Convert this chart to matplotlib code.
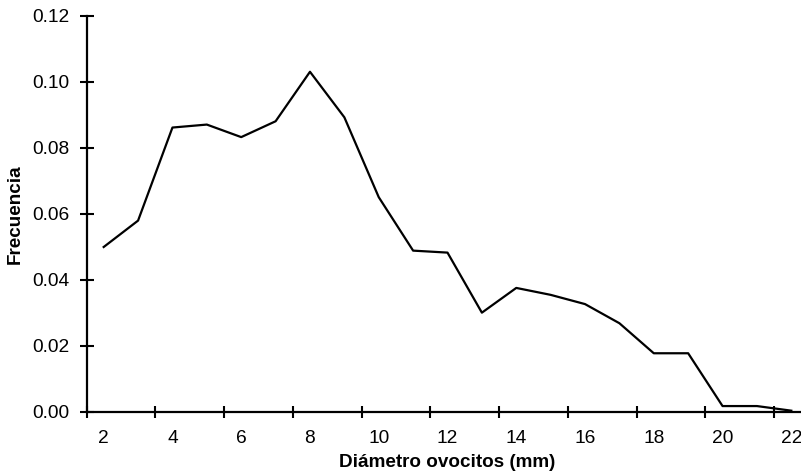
import matplotlib.pyplot as plt
import numpy as np

plt.rcParams['font.family'] = ['Liberation Sans', 'DejaVu Sans']

# Diámetro de ovocitos (mm), una categoría por milímetro
diametro = [2, 3, 4, 5, 6, 7, 8, 9, 10, 11, 12, 13, 14, 15, 16, 17, 18, 19, 20, 21, 22]
frecuencia = [0.0500, 0.0580, 0.0862, 0.0871, 0.0833, 0.0881, 0.1031, 0.0893,
              0.0651, 0.0489, 0.0483, 0.0301, 0.0376, 0.0355, 0.0327, 0.0269,
              0.0178, 0.0178, 0.0018, 0.0018, 0.0004]

etiquetas_x = [2, 4, 6, 8, 10, 12, 14, 16, 18, 20, 22]
etiquetas_y = [0.00, 0.02, 0.04, 0.06, 0.08, 0.10, 0.12]

fig = plt.figure(figsize=(8.01, 4.75), dpi=100)
# el eje x sobresale del borde derecho, como en la figura original
ax = fig.add_axes([86.5 / 801, 63 / 475, 722 / 801, 396 / 475])

ax.plot(diametro, frecuencia, color='black', linewidth=1.6)

ax.set_xlim(1.5, 22.5)
ax.set_ylim(0, 0.12)

# marcas entre categorías, etiquetas en el centro de cada categoría
ax.set_xticks(np.arange(1.5, 22.5, 2))
ax.set_xticklabels([])
ax.set_xticks(etiquetas_x, minor=True)
ax.set_xticklabels([str(v) for v in etiquetas_x], minor=True)
ax.tick_params(axis='x', which='major', direction='inout', length=9, width=1.5)
ax.tick_params(axis='x', which='minor', length=0, pad=13, labelsize=13.8)

ax.set_yticks(etiquetas_y)
ax.set_yticklabels([f'{v:.2f}' for v in etiquetas_y])
ax.tick_params(axis='y', direction='inout', length=10, width=1.5, pad=7, labelsize=13.8)

for side in ['top', 'right']:
    ax.spines[side].set_visible(False)
for side in ['left', 'bottom']:
    ax.spines[side].set_linewidth(1.6)

ax.set_xlabel('Diámetro ovocitos (mm)', fontsize=13.6, fontweight='bold', labelpad=5)
ax.set_ylabel('Frecuencia', fontsize=13.6, fontweight='bold', labelpad=6.5)

fig.savefig('out.png', dpi=100)
